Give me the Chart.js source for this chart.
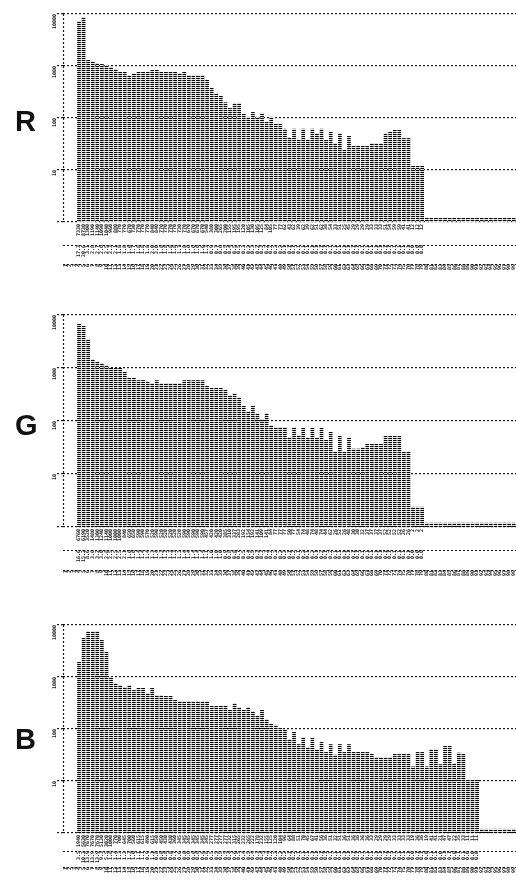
<!DOCTYPE html>
<html>
<head>
<meta charset="utf-8">
<script src="https://cdn.jsdelivr.net/npm/chart.js@4.4.1/dist/chart.umd.min.js"></script>
<style>
  html, body { margin: 0; padding: 0; background: #fff; }
  body { width: 516px; height: 885px; position: relative; overflow: hidden; }
  .panel { position: absolute; left: 0; width: 516px; }
  .tag { position: absolute; left: 15px; z-index: 2; line-height: 1;
         font: bold 29px "Liberation Sans", Arial, sans-serif; color: #111; }
</style>
</head>
<body>
<div class="tag" style="top:105px">R</div>
<div class="tag" style="top:409px">G</div>
<div class="tag" style="top:723px">B</div>

<div class="panel" style="top:0;height:285px"><canvas id="chartR"></canvas></div>
<div class="panel" style="top:300px;height:290px"><canvas id="chartG"></canvas></div>
<div class="panel" style="top:610px;height:275px"><canvas id="chartB"></canvas></div>

<script>
// histogram bins (shared x axis for the three channels)
const bins = Array.from({ length: 99 }, (_, i) => String(i + 1));
const yTicks = [1, 10, 100, 1000, 10000];

const redCounts = [
  null, null, null,
  7330, 8730, 1300, 1190, 1140, 1090, 1040, 960, 880, 770,
  770, 670, 730, 770, 770, 770, 840, 840, 770, 770,
  770, 770, 730, 770, 670, 670, 670, 670, 540, 380,
  300, 265, 200, 155, 195, 195, 120, 105, 130, 105,
  125, 84, 105, 77, 77, 62, 43, 62, 39, 62,
  39, 62, 51, 62, 38, 54, 33, 51, 25, 45,
  29, 29, 29, 29, 33, 33, 33, 51, 54, 59,
  59, 41, 41, 12, 12, 12,
  1.2, 1.2, 1.2, 1.2, 1.2, 1.2, 1.2, 1.2, 1.2, 1.2,
  1.2, 1.2, 1.2, 1.2, 1.2, 1.2, 1.2, 1.2, 1.2, 1.2
];

const greenCounts = [
  null, null, null,
  6760, 6190, 3520, 1480, 1300, 1240, 1140, 1000, 1000, 1000,
  840, 650, 650, 590, 590, 570, 520, 590, 520, 520,
  520, 520, 520, 590, 590, 590, 590, 590, 457, 420,
  420, 420, 385, 310, 337, 283, 192, 154, 192, 141,
  109, 141, 84, 77, 77, 77, 50, 77, 54, 74,
  48, 74, 48, 74, 44, 62, 26, 52, 26, 48,
  30, 30, 32, 37, 37, 37, 37, 52, 52, 52,
  52, 26, 26, 2.4, 2.4, 2.4,
  1.2, 1.2, 1.2, 1.2, 1.2, 1.2, 1.2, 1.2, 1.2, 1.2,
  1.2, 1.2, 1.2, 1.2, 1.2, 1.2, 1.2, 1.2, 1.2, 1.2
];

const blueCounts = [
  null, null, null,
  1940, 5630, 7670, 7670, 7670, 5130, 3020, 1000, 770, 700,
  645, 700, 560, 615, 615, 490, 615, 450, 450, 430,
  430, 360, 345, 345, 345, 345, 345, 345, 345, 277,
  277, 277, 277, 232, 315, 265, 232, 265, 222, 178,
  232, 155, 125, 120, 104, 96, 64, 88, 51, 70,
  45, 67, 41, 56, 36, 51, 32, 51, 36, 51,
  36, 36, 36, 36, 33, 29, 29, 29, 29, 33,
  33, 33, 33, 19, 36, 36, 19, 41, 41, 21,
  47, 47, 22, 35, 33, 10.5, 10.5, 10.5,
  1.2, 1.2, 1.2, 1.2, 1.2, 1.2, 1.2, 1.2
];

// dot-matrix look for the bars
const dots = (function () {
  const c = document.createElement('canvas');
  c.width = 2; c.height = 2;
  const g = c.getContext('2d');
  g.fillStyle = '#000'; g.fillRect(0, 0, 2, 1);
  g.fillStyle = '#e0e0e0'; g.fillRect(0, 1, 2, 1);
  return g.createPattern(c, 'repeat');
})();

// dotted left axis and dotted rule under each table row
const dottedEdges = {
  id: 'dottedEdges',
  afterDraw(chart) {
    const ctx = chart.ctx, a = chart.chartArea;
    ctx.save();
    ctx.strokeStyle = '#1a1a1a';
    ctx.lineWidth = 1.2;
    ctx.setLineDash([2, 2]);
    ctx.beginPath();
    ctx.moveTo(a.left + 0.5, a.top);
    ctx.lineTo(a.left + 0.5, a.bottom);
    ['xb', 'xc'].forEach(id => {
      const s = chart.scales[id];
      ctx.moveTo(a.left, s.top + 2.5);
      ctx.lineTo(a.right, s.top + 2.5);
    });
    ctx.stroke();
    ctx.restore();
  }
};

const tinyFont = { family: 'DejaVu Sans Mono', size: 5, weight: 'bold' };

function rowAxis(weight, h, label) {
  return {
    type: 'category',
    position: 'bottom',
    weight: weight,
    labels: bins,
    offset: true,
    grid: { display: false, drawTicks: false },
    border: { display: false },
    ticks: {
      autoSkip: false, minRotation: 90, maxRotation: 90, padding: 2,
      color: '#222', font: tinyFont, callback: label
    },
    afterFit: function (s) {
      s.height = h;
      s.paddingLeft = 0;
      s.paddingRight = 0;
    }
  };
}

function histogram(canvasId, counts, padTop, padBottom, rows) {
  const total = counts.reduce((s, v) => s + (v || 0), 0);
  return new Chart(document.getElementById(canvasId), {
    type: 'bar',
    data: {
      labels: bins,
      datasets: [{
        data: counts,
        backgroundColor: dots,
        categoryPercentage: 1,
        barPercentage: 0.8
      }]
    },
    plugins: [dottedEdges],
    options: {
      responsive: true,
      maintainAspectRatio: false,
      animation: false,
      layout: { padding: { top: padTop, bottom: padBottom, left: 0, right: 0 } },
      plugins: { legend: { display: false }, tooltip: { enabled: false } },
      scales: {
        x: rowAxis(0, rows[0], function (v, i) {
          const c = counts[i];
          return c != null && c >= 2 ? String(Math.round(c)) : '';
        }),
        xb: rowAxis(1, rows[1], function (v, i) {
          const c = counts[i];
          return c != null && c >= 2 ? (c / total * 100).toFixed(1) : '';
        }),
        xc: rowAxis(2, rows[2], function (v, i) {
          return bins[i];
        }),
        y: {
          type: 'logarithmic',
          min: 1,
          max: 10000,
          afterBuildTicks: function (s) { s.ticks = yTicks.map(v => ({ value: v })); },
          afterFit: function (s) { s.width = 63; },
          grid: {
            color: '#1a1a1a', lineWidth: 1.2, tickLength: 6,
            borderDash: [2, 2], tickBorderDash: [2, 2]
          },
          border: { display: false, dash: [2, 2] },
          ticks: {
            minRotation: 90, maxRotation: 90, padding: 2,
            color: '#222', font: tinyFont,
            callback: function (v) { return v > 1 ? String(v) : ''; }
          }
        }
      }
    }
  });
}

histogram('chartR', redCounts, 14, 7, [21, 19, 16]);
histogram('chartG', greenCounts, 15, 5, [21, 20, 17]);
histogram('chartB', blueCounts, 15, 10, [16, 16, 10]);
</script>
</body>
</html>
